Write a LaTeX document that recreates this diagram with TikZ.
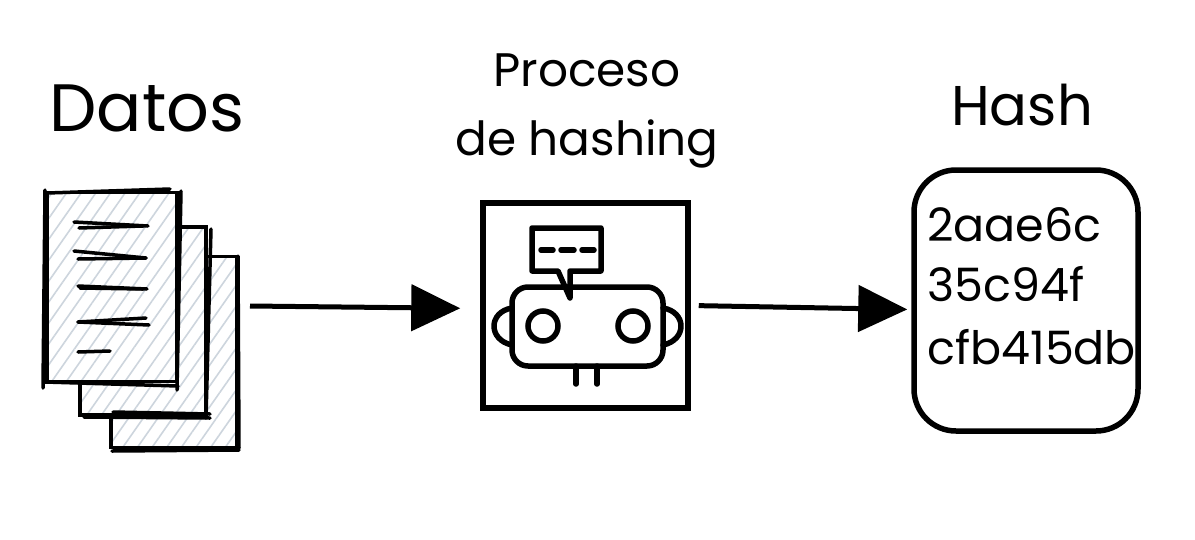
\documentclass[tikz,border=0pt]{standalone}
\usepackage{fontspec}
\setmainfont{Poppins}
\usetikzlibrary{arrows.meta, positioning, patterns.meta}
\definecolor{hatchgray}{RGB}{205,213,221}

\begin{document}
\begin{tikzpicture}[
    x=1pt, y=-1pt,
    >=Stealth,
    title/.style={inner sep=0pt, font=\fontsize{67}{67}\selectfont},
    subtitle/.style={inner sep=0pt, font=\fontsize{47}{47}\selectfont},
    hashline/.style={inner sep=0pt, font=\fontsize{46}{46}\selectfont},
    sheet/.style={draw, line width=3.5pt, inner sep=0pt, preaction={fill=white},
                  pattern={Lines[angle=55, distance=12pt, line width=1.6pt]},
                  pattern color=hatchgray},
    stroke/.style={line width=3.5pt, line cap=round},
    thick box/.style={draw, line width=5.5pt, inner sep=0pt},
    part/.style={line width=5.5pt, line cap=round, line join=round},
    eye/.style={draw, circle, line width=5.5pt, minimum size=30pt, inner sep=0pt},
    flow/.style={line width=5pt, -{Triangle[length=49pt, width=46pt]}}
  ]
  \useasboundingbox (0,0) rectangle (1195,539);

  % pile of sheets
  \node[sheet, minimum width=126pt, minimum height=191pt] (sheetback) at (174,352) {};
  \node[sheet, minimum width=126pt, minimum height=188pt] (sheetmid) at (143,321) {};
  \node[sheet, minimum width=130pt, minimum height=189pt] (sheetfront) at (112,287) {};
  \draw[stroke] (47,193) -- (170,189);
  \draw[stroke] (45,190) -- (43,388);
  \draw[stroke] (181,191) -- (177,390);
  \draw[stroke] (45,382) -- (178,386);
  \draw[stroke] (211,229) -- (206,418);
  \draw[stroke] (113,412) -- (210,414);
  \draw[stroke] (84,417) -- (210,418);
  \draw[stroke] (238,256) -- (239,448);
  \draw[stroke] (112,451) -- (239,450);
  \foreach \xa/\xb/\ya/\yb in {74/148/222/226, 79/143/228/226, 74/146/251/258,
                               78/146/259/258, 80/143/288/289, 78/147/286/289,
                               78/146/322/318, 78/149/322/325}
    \draw[stroke] (\xa,\ya) -- (\xb,\yb);
  \draw[stroke] (78,352) -- (110,351);

  % robot
  \node[thick box, minimum size=205pt] (robotbox) at (585.5,305.5) {};
  \draw[part] (558,271) -- (532,271) -- (532,228) -- (601,228) -- (601,271)
    -- (570,271) -- (570,298) -- cycle;
  \foreach \xa/\xb in {541/553, 561/574, 582/594}
    \draw[part] (\xa,250) -- (\xb,250);
  \draw[part, rounded corners=16pt] (512,287) rectangle (663,366);
  \node[eye] (eyeleft) at (543,326) {};
  \node[eye] (eyeright) at (633,326) {};
  \draw[part] (512,308) .. controls (488,312) and (488,340) .. (512,345);
  \draw[part] (663,308) .. controls (687,312) and (687,340) .. (663,345);
  \draw[part] (576,366) -- (576,384);
  \draw[part] (597,366) -- (597,384);

  % hash box
  \node[thick box, rounded corners=42pt, minimum width=224pt, minimum height=261pt]
    (hashbox) at (1026,300.5) {};
  \node[hashline, anchor=base west] (hashone) at (927,241) {2aae6c};
  \node[hashline, anchor=base west] (hashtwo) at (927,301) {35c94f};
  \node[hashline, anchor=base west] (hashthree) at (927,364) {cfb415db};

  % titles
  \node[title] (datos) at (147,108) {Datos};
  \node[subtitle] (proceso) at (587,70) {Proceso};
  \node[subtitle, below=33pt of proceso] (hashing) {de hashing};
  \node[title, font=\fontsize{56}{56}\selectfont] (hash) at (1022,105) {Hash};

  % arrows
  \coordinate (salida) at (250,306);
  \draw[flow, shorten >=20pt] (salida) -- ([yshift=-3pt]robotbox.west);
  \draw[flow, shorten <=8pt, shorten >=4pt] (robotbox.east) -- ([yshift=-9pt]hashbox.west);
\end{tikzpicture}
\end{document}
